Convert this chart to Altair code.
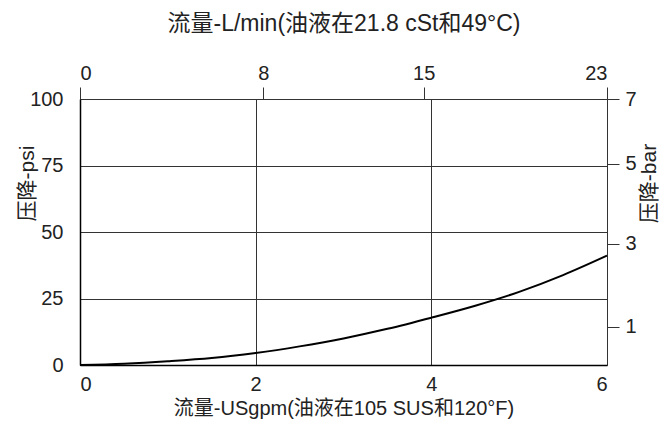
import altair as alt
import pandas as pd

# Curve: flow (USgpm) vs pressure drop (psi)
flow_gpm = [0, 0.5, 1.0, 1.5, 2.0, 2.5, 3.0, 3.5, 4.0, 4.5, 5.0, 5.5, 6.0]
drop_psi = [0, 0.5, 1.4, 2.6, 4.5, 7.0, 10.0, 13.6, 17.8, 22.3, 27.5, 33.8, 41.1]

# Axis ticks
gpm_ticks = [0, 2, 4, 6]
psi_ticks = [0, 25, 50, 75, 100]
lmin_ticks = [0, 8, 15, 23]
bar_labels = ["1", "3", "5", "7"]
bar_tick_psi = [14.3, 45.5, 75.6, 100.0]

FONT = "Liberation Sans, Noto Sans CJK SC, sans-serif"
TXT = "#222222"
GRID = "#333333"

df = pd.DataFrame({"gpm": flow_gpm, "psi": drop_psi})
df_top = pd.DataFrame({"lmin": lmin_ticks})
df_right = pd.DataFrame({"bar_psi": bar_tick_psi})

bar_expr = " : ".join(f"datum.value == {v} ? '{l}'" for v, l in zip(bar_tick_psi, bar_labels)) + " : ''"

line = alt.Chart(df).mark_line(color="black", strokeWidth=2, interpolate="monotone").encode(
    x=alt.X("gpm:Q", scale=alt.Scale(domain=[0, 6], nice=False, zero=False),
            axis=alt.Axis(orient="bottom", values=gpm_ticks, grid=True, ticks=False,
                          domain=True, domainColor="black", domainWidth=1.5,
                          gridColor=GRID, gridWidth=1, gridOpacity=1,
                          labelPadding=9, labelFontSize=20,
                          title="流量-USgpm(油液在105 SUS和120°F)",
                          titleY=43, titleBaseline="middle", titleFontSize=20)),
    y=alt.Y("psi:Q", scale=alt.Scale(domain=[0, 100], nice=False),
            axis=alt.Axis(orient="left", values=psi_ticks, grid=True, ticks=False,
                          domain=True, domainColor="black", domainWidth=1.5,
                          gridColor=GRID, gridWidth=1, gridOpacity=1,
                          labelPadding=17, labelFontSize=20,
                          title="压降-psi", titleX=-53, titleY=84, titleAngle=270,
                          titleBaseline="middle", titleAlign="center", titleFontSize=21)),
)

top = alt.Chart(df_top).mark_point(opacity=0).encode(
    x=alt.X("lmin:Q", scale=alt.Scale(domain=[0, 23], nice=False),
            axis=alt.Axis(orient="top", values=lmin_ticks, grid=False, ticks=True,
                          tickSize=12, tickColor=GRID, tickWidth=1, domain=False,
                          labelPadding=4, labelFontSize=20,
                          title="流量-L/min(油液在21.8 cSt和49°C)",
                          titleY=-76, titleBaseline="middle", titleFontSize=23)),
)

right = alt.Chart(df_right).mark_point(opacity=0).encode(
    y=alt.Y("bar_psi:Q", scale=alt.Scale(domain=[0, 100], nice=False),
            axis=alt.Axis(orient="right", values=bar_tick_psi, labelExpr=bar_expr,
                          grid=False, ticks=True, tickSize=12, tickColor=GRID, tickWidth=1,
                          domain=False, labelPadding=6, labelFontSize=20,
                          title="压降-bar", titleX=42, titleY=84, titleAngle=270,
                          titleBaseline="middle", titleAlign="center", titleFontSize=21)),
)

chart = alt.layer(line, top, right).resolve_scale(x="independent", y="independent").properties(
    width=527, height=266,
    autosize=alt.AutoSizeParams(type="none"),
    padding={"left": 72, "top": 91, "right": 52, "bottom": 57},
    background="white",
).configure_view(stroke=None).configure_axis(
    labelFont=FONT, titleFont=FONT, labelColor=TXT, titleColor=TXT,
    titleFontWeight="normal",
)

chart.save("out.html", embed_options={"renderer": "svg", "actions": False})
